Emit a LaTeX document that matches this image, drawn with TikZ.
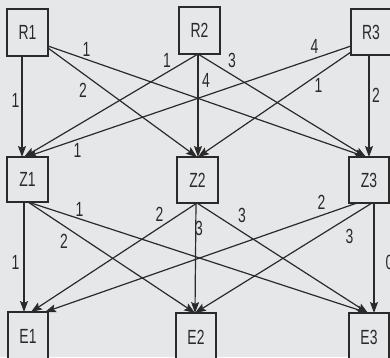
\documentclass[tikz,border=0pt]{standalone}
\usepackage{fontspec}
\setmainfont{Liberation Sans}[FakeStretch=0.68]
\usetikzlibrary{arrows.meta}
\definecolor{bg}{HTML}{E6E7E8}
\definecolor{ink}{HTML}{2A2A2A}
\begin{document}
\begin{tikzpicture}[x=1pt,y=-1pt,
  box/.style={draw=ink,fill=bg,line width=1.4pt,inner sep=0pt,outer sep=0pt,
    minimum width=#1,text=ink,font=\fontsize{20.5}{20.5}\selectfont},
  box/.default=41pt,
  arr/.style={draw=ink,line width=1.2pt,-{Stealth[length=11pt,width=8pt,inset=2pt]}},
  lbl/.style={inner sep=0pt,text=ink,font=\fontsize{20.5}{20.5}\selectfont}]
\useasboundingbox (0,0) rectangle (390,357);
\fill[bg] (0,0) rectangle (390,357);
\clip (0,0) rectangle (390,357);
% boxes
\node[box,minimum height=47pt] (R1) at (27.5,32.5) {R1};
\node[box,minimum height=47pt] (R2) at (199.5,30.5) {R2};
\node[box=40pt,minimum height=46pt] (R3) at (371,32) {R3};
\node[box,minimum height=45pt] (Z1) at (27.5,179.5) {Z1};
\node[box,minimum height=46pt] (Z2) at (197.5,180) {Z2};
\node[box=40pt,minimum height=46pt] (Z3) at (369,180) {Z3};
\node[box=40pt,minimum height=48pt] (E1) at (28,336) {E1};
\node[box=40pt,minimum height=48pt] (E2) at (196,337) {E2};
\node[box=40pt,minimum height=48pt] (E3) at (369,337) {E3};
% R -> Z
\draw[arr] ([shift={(15,0)}]R1.south west) -- ([shift={(15,0)}]Z1.north west);
\draw[arr] ([shift={(0,-8)}]R1.south east) -- ([shift={(-0.5,0)}]Z2.north);
\draw[arr] ([shift={(0,-10)}]R1.south east) -- ([shift={(17,0)}]Z3.north west);
\draw[arr] ([shift={(-1.5,0)}]R2.south) -- ([shift={(17,0)}]Z1.north west);
\draw[arr] ([shift={(-1.5,0)}]R2.south) -- ([shift={(0.5,0)}]Z2.north);
\draw[arr] ([shift={(-1.5,0)}]R2.south) -- ([shift={(17,0)}]Z3.north west);
\draw[arr] ([shift={(0,37)}]R3.north west) -- ([shift={(19,0)}]Z1.north west);
\draw[arr] ([shift={(0,43)}]R3.north west) -- ([shift={(0.5,0)}]Z2.north);
\draw[arr] ([shift={(18,0)}]R3.south west) -- ([shift={(20,0)}]Z3.north west);
% Z -> E
\draw[arr] ([shift={(17,0)}]Z1.south west) -- ([shift={(16,0)}]E1.north west);
\draw[arr] ([shift={(21,0)}]Z1.south west) -- ([shift={(19,0)}]E2.north west);
\draw[arr] ([shift={(21,0)}]Z1.south west) -- ([shift={(19,0)}]E3.north west);
\draw[arr] ([shift={(20,0)}]Z2.south west) -- ([shift={(23,0)}]E1.north west);
\draw[arr] ([shift={(19,0)}]Z2.south west) -- ([shift={(19,0)}]E2.north west);
\draw[arr] ([shift={(20,0)}]Z2.south west) -- ([shift={(19,0)}]E3.north west);
\draw[arr] ([shift={(8,0)}]Z3.south west) -- ([shift={(37,0)}]E1.north west);
\draw[arr] ([shift={(23,0)}]Z3.south west) -- ([shift={(19,0)}]E2.north west);
\draw[arr] ([shift={(25,0)}]Z3.south west) -- ([shift={(25,0)}]E3.north west);
% labels
\node[lbl] (l1) at (86.5,49.5) {1};
\node[lbl] (l2) at (83,90) {2};
\node[lbl] (l3) at (15.5,100.5) {1};
\node[lbl] (l4) at (167,60) {1};
\node[lbl] (l5) at (77.5,150.5) {1};
\node[lbl] (l6) at (232,60) {3};
\node[lbl] (l7) at (206,80.5) {4};
\node[lbl] (l8) at (314.5,46) {4};
\node[lbl] (l9) at (318.5,85) {1};
\node[lbl] (l10) at (376,95) {2};
\node[lbl] (l11) at (79.5,209) {1};
\node[lbl] (l12) at (64,241.5) {2};
\node[lbl] (l13) at (15.5,262.5) {1};
\node[lbl] (l14) at (159.5,214.5) {2};
\node[lbl] (l15) at (199,228.5) {3};
\node[lbl] (l16) at (242,215) {3};
\node[lbl] (l17) at (321.5,202) {2};
\node[lbl] (l18) at (349.5,236.5) {3};
\node[lbl] (l19) at (389.5,262.5) {0};
\end{tikzpicture}
\end{document}
